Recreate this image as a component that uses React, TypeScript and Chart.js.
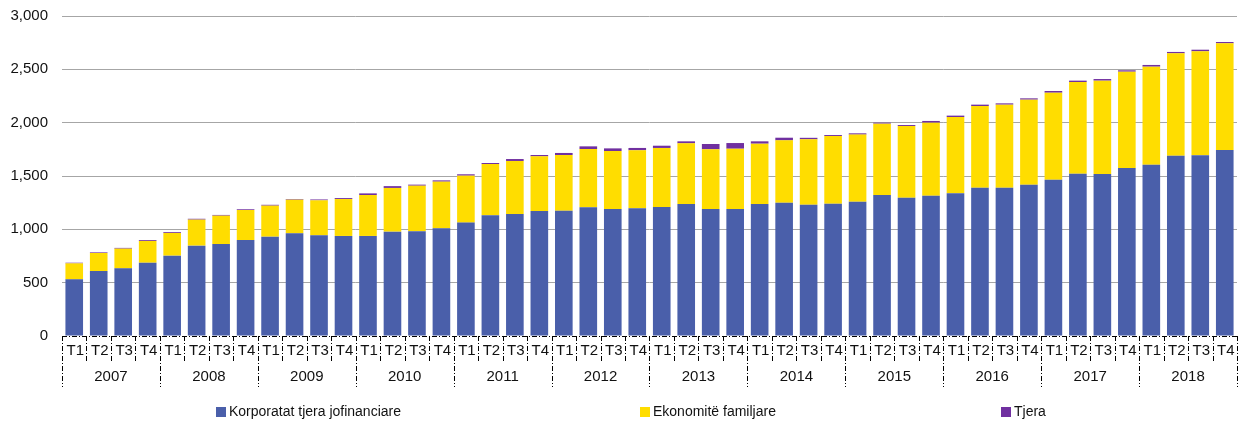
import React, { useEffect, useRef } from "react";
import { Chart, registerables } from "chart.js";

Chart.register(...registerables);

const years = ["2007", "2008", "2009", "2010", "2011", "2012", "2013", "2014", "2015", "2016", "2017", "2018"];
const quarters = ["T1", "T2", "T3", "T4"];

const korporatat = [
  531, 609, 634, 687,
  753, 847, 862, 900,
  931, 963, 944, 938,
  938, 978, 982, 1009,
  1063, 1131, 1144, 1172,
  1175, 1206, 1191, 1197,
  1209, 1238, 1191, 1191,
  1238, 1250, 1231, 1241,
  1259, 1322, 1297, 1316,
  1338, 1391, 1391, 1419,
  1466, 1522, 1519, 1575,
  1606, 1691, 1694, 1744,
];

const ekonomite = [
  150, 169, 185, 204,
  213, 244, 266, 281,
  291, 315, 328, 346,
  384, 410, 427, 438,
  440, 481, 497, 512,
  522, 547, 543, 544,
  554, 568, 559, 565,
  565, 584, 613, 634,
  629, 669, 672, 684,
  715, 765, 778, 797,
  815, 859, 875, 903,
  919, 959, 975, 1000,
];

const tjera = [
  6, 6, 7, 8,
  8, 8, 7, 7,
  8, 6, 8, 9,
  15, 17, 10, 12,
  13, 10, 18, 13,
  19, 25, 25, 22,
  21, 19, 50, 53,
  22, 25, 14, 9,
  12, 9, 9, 16,
  13, 13, 12, 12,
  16, 13, 15, 13,
  16, 13, 15, 12,
];

const seriesNames = ["Korporatat tjera jofinanciare", "Ekonomitë familjare", "Tjera"];
const seriesColors = ["#4A5FAA", "#FFDD00", "#7030A0"];
const legendX = [216, 640, 1001];

const FONT = "'Liberation Sans', Arial, sans-serif";

const labels = years.flatMap((y) => quarters.map((q) => [q, y]));

const axisPlugin = {
  id: "customAxis",
  afterDraw(chart: any) {
    const { ctx, chartArea } = chart;
    const xs = chart.scales.x;
    const n = labels.length;
    const bottom = chartArea.bottom;
    const step = n > 1 ? xs.getPixelForValue(1) - xs.getPixelForValue(0) : chartArea.right - chartArea.left;
    ctx.save();
    ctx.strokeStyle = "#000";
    ctx.lineWidth = 1;
    ctx.setLineDash([5, 2, 1, 2]);
    ctx.beginPath();
    ctx.moveTo(chartArea.left, bottom + 0.5);
    ctx.lineTo(chartArea.right, bottom + 0.5);
    ctx.stroke();
    for (let i = 0; i <= n; i++) {
      const x = Math.round(xs.getPixelForValue(i) - step / 2) + 0.5;
      const len = i % 4 === 0 ? 51 : 26;
      ctx.beginPath();
      ctx.moveTo(x, bottom);
      ctx.lineTo(x, bottom + len);
      ctx.stroke();
    }
    ctx.setLineDash([]);
    ctx.fillStyle = "#111";
    ctx.textAlign = "center";
    ctx.textBaseline = "middle";
    ctx.font = `15px ${FONT}`;
    for (let i = 0; i < n; i++) {
      ctx.fillText(labels[i][0], xs.getPixelForValue(i) + 1, bottom + 15);
    }
    for (let j = 0; j < years.length; j++) {
      const xc = (xs.getPixelForValue(j * 4) + xs.getPixelForValue(j * 4 + 3)) / 2;
      ctx.fillText(years[j], xc, bottom + 41);
    }
    // legend
    ctx.textAlign = "left";
    ctx.font = `14px ${FONT}`;
    const ly = 412;
    for (let k = 0; k < seriesNames.length; k++) {
      ctx.fillStyle = seriesColors[k];
      ctx.fillRect(legendX[k], ly - 5, 10, 10);
      ctx.fillStyle = "#111";
      ctx.fillText(seriesNames[k], legendX[k] + 13, ly);
    }
    ctx.restore();
  },
};

export default function App() {
  const ref = useRef<HTMLCanvasElement | null>(null);
  useEffect(() => {
    if (!ref.current) return;
    const chart = new Chart(ref.current, {
      type: "bar",
      data: {
        labels: labels.map((l) => l.join(" ")),
        datasets: [
          { label: seriesNames[0], data: korporatat, backgroundColor: seriesColors[0] },
          { label: seriesNames[1], data: ekonomite, backgroundColor: seriesColors[1] },
          { label: seriesNames[2], data: tjera, backgroundColor: seriesColors[2] },
        ],
      },
      options: {
        animation: false,
        responsive: true,
        maintainAspectRatio: false,
        layout: { padding: { top: 16, right: 3, left: 0, bottom: 0 } },
        datasets: { bar: { barPercentage: 0.72, categoryPercentage: 1 } },
        plugins: { legend: { display: false }, tooltip: { enabled: false } },
        scales: {
          x: {
            stacked: true,
            grid: { display: false },
            border: { display: false },
            ticks: { display: false },
            afterFit: (s: any) => { s.height = 87; },
          },
          y: {
            stacked: true,
            min: 0,
            max: 3000,
            border: { display: false },
            grid: {
              drawTicks: true,
              tickLength: 14,
              tickColor: "rgba(0,0,0,0)",
              lineWidth: 1,
              color: (c: any) => (c.tick && c.tick.value === 0 ? "rgba(0,0,0,0)" : "#A6A6A6"),
            },
            ticks: {
              stepSize: 500,
              padding: 0,
              color: "#111",
              font: { family: FONT, size: 15 },
              callback: (v: any) => Number(v).toLocaleString("en-US"),
            },
            afterFit: (s: any) => { s.width = 62; },
          },
        },
      },
      plugins: [axisPlugin],
    });
    return () => chart.destroy();
  }, []);
  return (
    <div style={{ position: "absolute", left: 0, top: 0, width: 1240, height: 423 }}>
      <canvas ref={ref} />
    </div>
  );
}
